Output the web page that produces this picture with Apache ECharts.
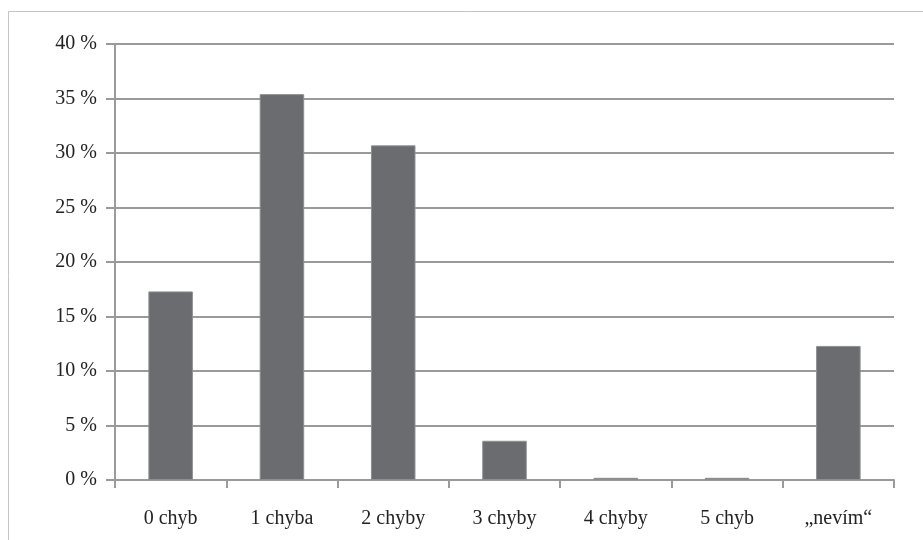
<!DOCTYPE html>
<html>
<head>
<meta charset="utf-8">
<script src="https://cdn.jsdelivr.net/npm/echarts@6/dist/echarts.min.js"></script>
<style>html,body{margin:0;padding:0;background:#fff;}#c{width:923px;height:540px;}</style>
</head>
<body>
<div id="c"></div>
<script>
var categories = ['0 chyb', '1 chyba', '2 chyby', '3 chyby', '4 chyby', '5 chyb', '\u201Enev\u00EDm\u201C'];
var values = [17.3, 35.4, 30.7, 3.6, 0.2, 0.2, 12.3];
var yTicks = [0, 5, 10, 15, 20, 25, 30, 35, 40];

var chart = echarts.init(document.getElementById('c'), null, {renderer: 'canvas'});
var gray = '#9a9a9a';
var font = '"Liberation Serif", "Times New Roman", serif';
chart.setOption({
  animation: false,
  backgroundColor: '#fff',
  graphic: [{
    type: 'rect',
    shape: {x: 8.5, y: 11.5, width: 1000, height: 1000},
    style: {fill: 'none', stroke: '#c4c4c4', lineWidth: 1},
    silent: true
  }],
  grid: {left: 115, right: 29, top: 44, bottom: 60, containLabel: false},
  xAxis: {
    type: 'category',
    data: categories,
    axisLine: {lineStyle: {color: gray, width: 2}},
    axisTick: {show: true, length: 8, lineStyle: {color: gray, width: 2}, alignWithLabel: false},
    axisLabel: {margin: 29, color: '#222', fontFamily: font, fontSize: 20}
  },
  yAxis: {
    type: 'value',
    min: yTicks[0],
    max: yTicks[yTicks.length - 1],
    interval: 5,
    axisLine: {show: true, lineStyle: {color: gray, width: 2}},
    axisTick: {show: true, length: 9, lineStyle: {color: gray, width: 2}},
    splitLine: {show: true, lineStyle: {color: gray, width: 2}},
    axisLabel: {margin: 18, color: '#222', fontFamily: font, fontSize: 20, formatter: '{value} %'}
  },
  series: [{
    type: 'bar',
    data: values,
    barWidth: '40%',
    itemStyle: {color: '#6b6c70', borderColor: '#8d8e91', borderWidth: 1}
  }]
});
</script>
</body>
</html>
